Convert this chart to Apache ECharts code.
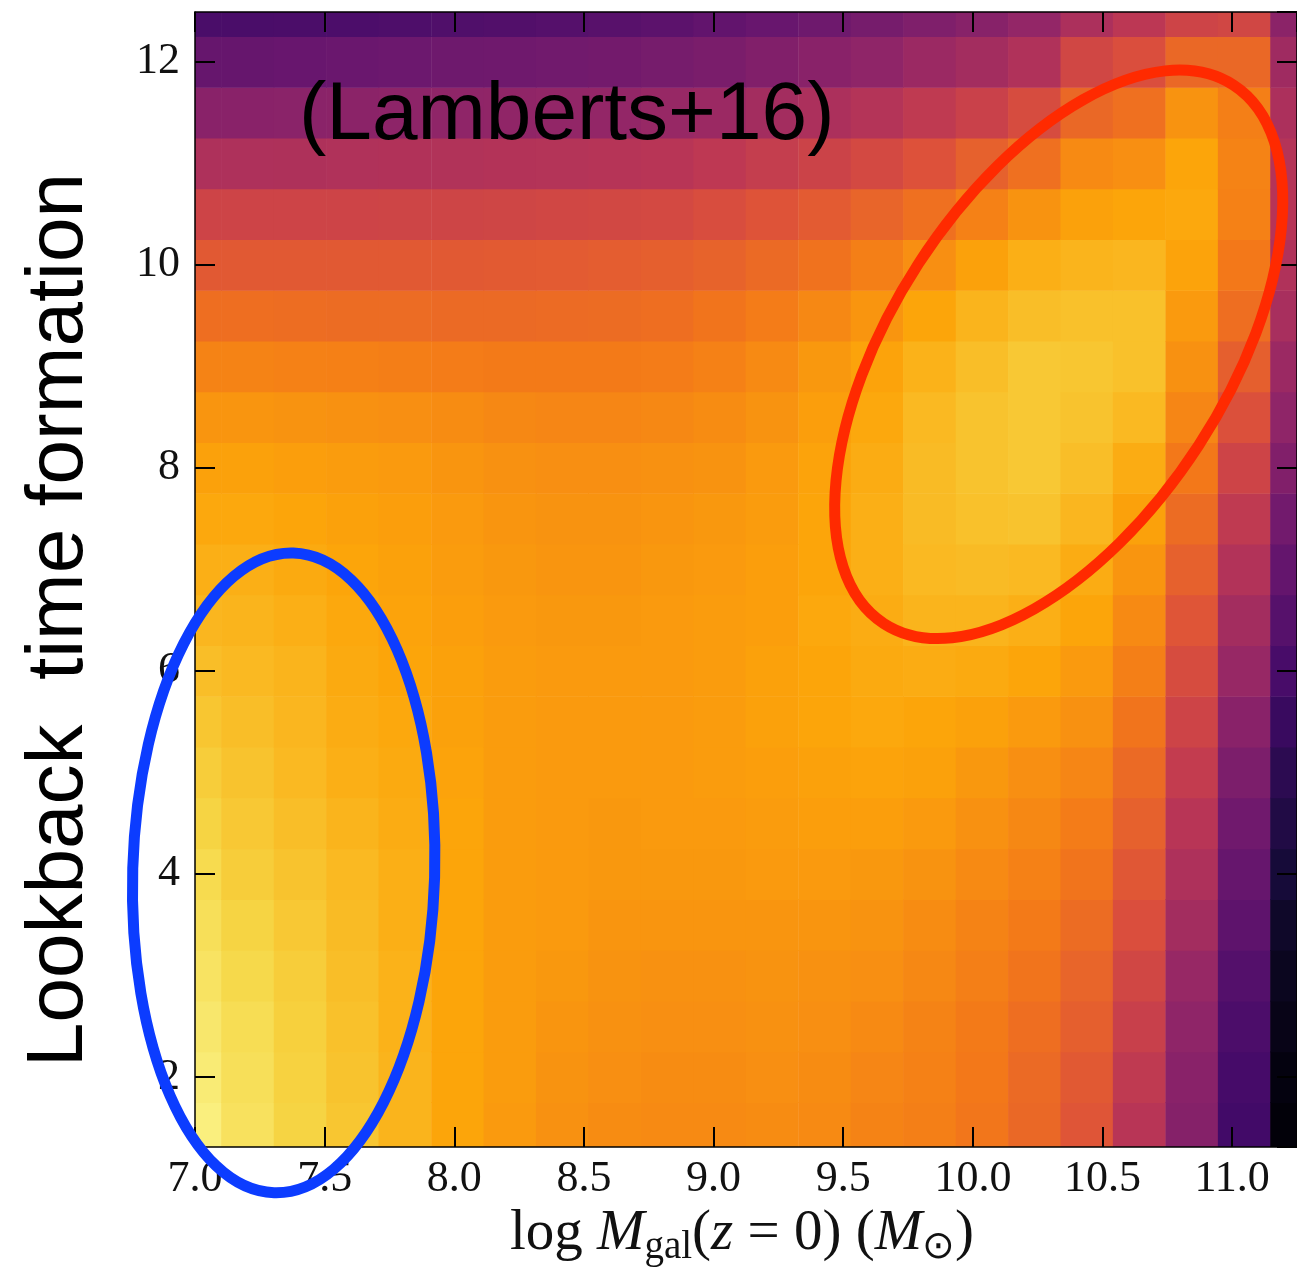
<!DOCTYPE html>
<html>
<head>
<meta charset="utf-8">
<script src="https://cdn.jsdelivr.net/npm/echarts@6/dist/echarts.min.js"></script>
<style>
html,body{margin:0;padding:0;background:#ffffff;}
#chart{width:1297px;height:1275px;}
</style>
</head>
<body>
<div id="chart"></div>
<script>
// ---------------- DATA ----------------
// bin centres of log M_gal (x) and lookback time (y)
const massCenters = [7.000, 7.202, 7.405, 7.607, 7.809, 8.012, 8.214, 8.416, 8.618, 8.821, 9.023,
                     9.225, 9.428, 9.630, 9.832, 10.035, 10.237, 10.439, 10.641, 10.844, 11.046, 11.248];
const ageCenters = [1.5, 2.0, 2.5, 3.0, 3.5, 4.0, 4.5, 5.0, 5.5, 6.0, 6.5, 7.0, 7.5, 8.0, 8.5,
                    9.0, 9.5, 10.0, 10.5, 11.0, 11.5, 12.0, 12.5];
const massBinWidth = 0.2023;
const ageBinWidth = 0.5;

// normalised density in each mass column, listed from young (1.5) to old (12.5)
const col_7_00  = [0.96,0.95,0.94,0.93,0.92,0.91,0.895,0.88,0.865,0.85,0.835,0.82,0.805,0.79,0.765,0.725,0.675,0.62,0.55,0.465,0.375,0.29,0.22];
const col_7_20  = [0.925,0.92,0.915,0.905,0.895,0.88,0.87,0.86,0.85,0.84,0.83,0.82,0.805,0.79,0.765,0.725,0.675,0.62,0.55,0.465,0.375,0.29,0.22];
const col_7_40  = [0.895,0.89,0.885,0.88,0.87,0.86,0.85,0.84,0.835,0.83,0.82,0.81,0.80,0.785,0.76,0.72,0.672,0.62,0.55,0.467,0.378,0.295,0.222];
const col_7_61  = [0.865,0.86,0.855,0.85,0.845,0.84,0.83,0.82,0.815,0.81,0.805,0.80,0.79,0.78,0.755,0.717,0.67,0.62,0.55,0.47,0.38,0.30,0.225];
const col_7_81  = [0.83,0.83,0.825,0.825,0.82,0.82,0.815,0.81,0.805,0.80,0.795,0.79,0.785,0.775,0.75,0.713,0.668,0.62,0.552,0.472,0.385,0.305,0.23];
const col_8_01  = [0.80,0.80,0.80,0.80,0.80,0.80,0.80,0.795,0.79,0.79,0.785,0.78,0.775,0.765,0.745,0.71,0.665,0.62,0.553,0.474,0.39,0.31,0.235];
const col_8_21  = [0.775,0.78,0.78,0.78,0.78,0.78,0.78,0.78,0.78,0.78,0.775,0.77,0.765,0.755,0.735,0.705,0.665,0.623,0.556,0.477,0.393,0.313,0.24];
const col_8_42  = [0.755,0.76,0.765,0.77,0.775,0.775,0.775,0.775,0.775,0.775,0.77,0.765,0.76,0.75,0.73,0.705,0.666,0.625,0.56,0.48,0.397,0.317,0.248];
const col_8_62  = [0.745,0.75,0.755,0.76,0.765,0.77,0.77,0.775,0.775,0.775,0.77,0.765,0.76,0.75,0.73,0.705,0.67,0.63,0.565,0.485,0.40,0.322,0.256];
const col_8_82  = [0.74,0.745,0.75,0.755,0.765,0.77,0.775,0.775,0.775,0.775,0.775,0.77,0.765,0.755,0.735,0.71,0.675,0.635,0.57,0.49,0.41,0.33,0.265];
const col_9_02  = [0.74,0.745,0.75,0.755,0.765,0.77,0.775,0.78,0.78,0.78,0.78,0.775,0.77,0.76,0.745,0.72,0.69,0.645,0.585,0.505,0.42,0.34,0.28];
const col_9_23  = [0.745,0.75,0.755,0.76,0.765,0.775,0.78,0.785,0.79,0.79,0.785,0.785,0.78,0.775,0.76,0.74,0.71,0.665,0.605,0.525,0.44,0.355,0.295];
const col_9_43  = [0.74,0.745,0.75,0.755,0.765,0.775,0.785,0.79,0.80,0.80,0.805,0.80,0.80,0.795,0.785,0.77,0.735,0.685,0.625,0.545,0.46,0.375,0.31];
const col_9_63  = [0.725,0.73,0.74,0.75,0.76,0.77,0.785,0.795,0.805,0.81,0.815,0.82,0.82,0.815,0.805,0.795,0.765,0.715,0.65,0.57,0.48,0.39,0.33];
const col_9_83  = [0.715,0.72,0.725,0.735,0.745,0.76,0.775,0.79,0.80,0.815,0.83,0.84,0.845,0.845,0.84,0.825,0.80,0.75,0.68,0.60,0.51,0.42,0.35];
const col_10_03 = [0.695,0.70,0.705,0.715,0.725,0.74,0.755,0.77,0.79,0.81,0.83,0.845,0.855,0.86,0.86,0.85,0.83,0.79,0.72,0.64,0.54,0.44,0.37];
const col_10_24 = [0.66,0.665,0.675,0.69,0.705,0.72,0.735,0.75,0.775,0.80,0.82,0.84,0.86,0.87,0.87,0.87,0.85,0.82,0.76,0.68,0.58,0.47,0.40];
const col_10_44 = [0.61,0.62,0.635,0.65,0.67,0.69,0.71,0.73,0.755,0.775,0.80,0.815,0.835,0.85,0.86,0.865,0.855,0.83,0.79,0.74,0.66,0.56,0.46];
const col_10_64 = [0.49,0.51,0.535,0.56,0.59,0.615,0.64,0.665,0.69,0.715,0.74,0.765,0.79,0.815,0.84,0.855,0.855,0.835,0.80,0.75,0.68,0.59,0.50];
const col_10_84 = [0.365,0.375,0.39,0.41,0.44,0.465,0.49,0.52,0.55,0.58,0.61,0.64,0.67,0.70,0.73,0.755,0.775,0.795,0.805,0.80,0.76,0.66,0.55];
const col_11_05 = [0.20,0.21,0.225,0.245,0.27,0.29,0.315,0.345,0.375,0.41,0.44,0.475,0.51,0.55,0.595,0.635,0.675,0.70,0.72,0.725,0.715,0.66,0.56];
const col_11_25 = [0.01,0.02,0.035,0.05,0.07,0.10,0.125,0.15,0.18,0.215,0.25,0.285,0.32,0.355,0.39,0.42,0.45,0.47,0.485,0.48,0.46,0.43,0.38];

const densityColumns = [col_7_00, col_7_20, col_7_40, col_7_61, col_7_81, col_8_01, col_8_21, col_8_42,
  col_8_62, col_8_82, col_9_02, col_9_23, col_9_43, col_9_63, col_9_83, col_10_03, col_10_24,
  col_10_44, col_10_64, col_10_84, col_11_05, col_11_25];

// hand-drawn loops (centre in data units)
const blueLoopCenter = [7.342, 4.01];
const redLoopCenter = [10.331, 9.118];

// ---------------- STYLE ----------------
const inferno = ['#000004','#160B39','#420A68','#6A176E','#932667','#BC3754',
                 '#DD513A','#F37819','#FCA50A','#F6D746','#FCFFA4'];
const serif = '"Liberation Serif", "Times New Roman", serif';
const sans = '"Liberation Sans", Helvetica, Arial, sans-serif';

// build cell table from the named arrays
const cells = [];
massCenters.forEach((m, i) => {
  densityColumns[i].forEach((v, j) => { cells.push([m, ageCenters[j], v]); });
});

const chart = echarts.init(document.getElementById('chart'), null, {renderer: 'canvas'});

function renderCell(params, api) {
  const x = api.value(0), y = api.value(1);
  const p0 = api.coord([x - massBinWidth / 2, y + ageBinWidth / 2]);
  const p1 = api.coord([x + massBinWidth / 2, y - ageBinWidth / 2]);
  const cs = params.coordSys;
  const rect = echarts.graphic.clipRectByRect(
    {x: p0[0], y: p0[1], width: p1[0] - p0[0] + 0.6, height: p1[1] - p0[1] + 0.6},
    {x: cs.x, y: cs.y, width: cs.width, height: cs.height});
  if (!rect) return null;
  return {type: 'rect', shape: rect, style: {fill: api.visual('color')}};
}

const axisCommon = {
  z: 10,
  axisLine: {show: true, lineStyle: {color: '#000', width: 1.5}},
  axisTick: {show: true, inside: true, length: 20, lineStyle: {color: '#000', width: 2}},
  splitLine: {show: false}
};

chart.setOption({
  animation: false,
  backgroundColor: '#ffffff',
  grid: {left: 195, top: 12, right: 0, bottom: 128, containLabel: false},
  visualMap: {type: 'continuous', show: false, min: 0, max: 1, dimension: 2, seriesIndex: 0,
              inRange: {color: inferno}},
  xAxis: [
    Object.assign({}, axisCommon, {type: 'value', min: 7, max: 11.25, interval: 0.5, position: 'bottom',
      axisLabel: {show: true, margin: 10, fontFamily: serif, fontSize: 44, color: '#111',
                  showMaxLabel: false, formatter: v => v.toFixed(1)}}),
    Object.assign({}, axisCommon, {type: 'value', min: 7, max: 11.25, interval: 0.5, position: 'top',
      axisLabel: {show: false}})
  ],
  yAxis: [
    Object.assign({}, axisCommon, {type: 'value', min: 1.31, max: 12.49, splitNumber: 5,
      minInterval: 2, maxInterval: 2, position: 'left',
      axisLabel: {show: true, margin: 15, fontFamily: serif, fontSize: 44, color: '#111',
                  showMinLabel: false, showMaxLabel: false, formatter: v => String(v)}}),
    Object.assign({}, axisCommon, {type: 'value', min: 1.31, max: 12.49, splitNumber: 5,
      minInterval: 2, maxInterval: 2, position: 'right', axisLabel: {show: false}})
  ],
  series: [{
    type: 'custom',
    renderItem: renderCell,
    data: cells,
    encode: {x: 0, y: 1},
    xAxisIndex: 0, yAxisIndex: 0,
    z: 2
  }]
});

const bc = chart.convertToPixel({xAxisIndex: 0, yAxisIndex: 0}, blueLoopCenter);
const rc = chart.convertToPixel({xAxisIndex: 0, yAxisIndex: 0}, redLoopCenter);

chart.setOption({
  graphic: [
    {type: 'text', x: 299, y: 116, z: 100,
     style: {text: '(Lamberts+16)', font: '82px ' + sans, fill: '#000',
             textAlign: 'left', textVerticalAlign: 'middle', align: 'left', verticalAlign: 'middle'}},
    {type: 'text', x: 60, y: 620, rotation: Math.PI / 2, z: 100,
     style: {text: 'Lookback  time formation', font: '80px ' + sans, fill: '#000',
             textAlign: 'center', textVerticalAlign: 'middle', align: 'center', verticalAlign: 'middle'}},
    {type: 'text', x: 742, y: 1234, z: 100,
     style: {
       text: '{n|log }{i|M}{s|gal}{n|(}{i|z}{n| = 0) (}{i|M}{s|⊙}{n|)}',
       fill: '#111', textAlign: 'center', textVerticalAlign: 'middle', align: 'center', verticalAlign: 'middle',
       rich: {
         n: {fontFamily: serif, fontSize: 57, fill: '#111', color: '#111'},
         i: {fontFamily: serif, fontSize: 57, fontStyle: 'italic', fill: '#111', color: '#111'},
         s: {fontFamily: serif, fontSize: 39, fill: '#111', color: '#111', padding: [28, 0, 0, 0]}
       }
     }},
    {type: 'ellipse', x: bc[0], y: bc[1], rotation: -0.03, z: 200,
     shape: {cx: 0, cy: 0, rx: 151, ry: 320},
     style: {fill: 'none', stroke: '#0c3cff', lineWidth: 11}},
    {type: 'ellipse', x: rc[0], y: rc[1], rotation: 57 * Math.PI / 180, z: 200,
     shape: {cx: 0, cy: 0, rx: 321, ry: 167},
     style: {fill: 'none', stroke: '#ff2a00', lineWidth: 11}}
  ]
});
</script>
</body>
</html>
